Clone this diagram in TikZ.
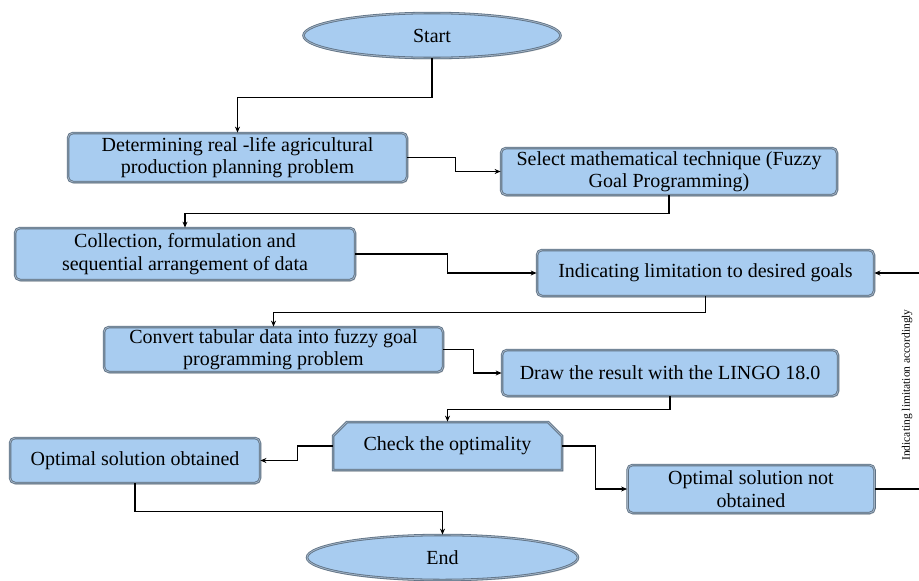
\documentclass[tikz,border=0pt]{standalone}
\usepackage{fontspec}
\setmainfont{Liberation Serif}
\usepackage{tikz}
\usetikzlibrary{arrows.meta,positioning,shapes.geometric,shapes.misc,shadows}
\definecolor{flowfill}{HTML}{A8CCF0}
\definecolor{flowedge}{HTML}{5E7184}
\definecolor{flowrim}{HTML}{9FB0C2}
\newcommand{\flowfont}{\fontsize{20}{22.5}\selectfont}

\tikzset{
  bevel/.style={draw=flowedge,line width=0.8pt,double=flowrim,double distance=0.9pt,fill=flowfill,
    drop shadow={shadow xshift=1pt,shadow yshift=-1.5pt,opacity=0.35}},
  stepbox/.style={rectangle,rounded corners=5pt,bevel,align=center,font=\flowfont,inner sep=1pt},
  termbox/.style={ellipse,bevel,font=\flowfont,inner sep=0pt},
  checkbox/.style={chamfered rectangle,chamfered rectangle corners={north west,north east},
    chamfered rectangle xsep=7pt,chamfered rectangle ysep=7pt,bevel,font=\flowfont,inner sep=1pt},
  flow/.style={->,line width=1.3pt,black},
  sidenote/.style={font=\fontsize{11.5}{13}\selectfont,inner sep=1pt}
}

\begin{document}
\begin{tikzpicture}[x=1pt,y=-1pt,>={Stealth[length=6pt,width=5pt]}]
  \useasboundingbox (0,0) rectangle (919,581);
  \node[termbox,minimum width=257,minimum height=45] (start) at (432,35.5) {Start};
  \node[stepbox,minimum width=339,minimum height=49] (b1) at (237.5,157.5)
    {Determining real -life agricultural\\production planning problem};
  \node[stepbox,minimum width=336,minimum height=47] (b2) at (669,171.5)
    {Select mathematical technique (Fuzzy\\Goal Programming)};
  \node[stepbox,minimum width=340,minimum height=52] (b3) at (185,254)
    {Collection, formulation and\\sequential arrangement of data};
  \node[stepbox,minimum width=337,minimum height=46] (b4) at (705.5,273)
    {Indicating limitation to desired goals};
  \node[stepbox,minimum width=339,minimum height=45] (b5) at (273.5,349.5)
    {Convert tabular data into fuzzy goal\\programming problem};
  \node[stepbox,minimum width=336,minimum height=46] (b6) at (670,373)
    {Draw the result with the LINGO 18.0};
  \node[checkbox,minimum width=229,minimum height=48] (b7) at (447.5,446)
    {Check the optimality};
  \node[stepbox,minimum width=250,minimum height=45] (b8) at (135,460.5)
    {Optimal solution obtained};
  \node[stepbox,minimum width=247,minimum height=48] (b9) at (751,489)
    {Optimal solution not\\obtained};
  \node[termbox,minimum width=271,minimum height=45] (end) at (442.5,557.5) {End};

  \draw[flow] (start.south) -- ++(0,39) -| (b1.north);
  \draw[flow] (b1.east) -- ++(48,0) |- (b2.west);
  \draw[flow] (b2.south) -- ++(0,18) -| (b3.north);
  \draw[flow] (b3.east) -- ++(92,0) |- (b4.west);
  \draw[flow] (b4.south) -- ++(0,16) -| (b5.north);
  \draw[flow] (b5.east) -- ++(30,0) |- (b6.west);
  \draw[flow] (b6.south) -- ++(0,13) -| (b7.north);
  \draw[flow] (b7.west) -- ++(-35,0) |- (b8.east);
  \draw[flow] (b7.east) -- ++(33,0) |- (b9.west);
  \draw[flow] (b8.south) -- ++(0,28) -| (end.north);
  \draw[flow] (b9.east) -- ++(45,0) |- (b4.east);
  \node[sidenote,rotate=90] (limnote) at (907,385) {Indicating limitation accordingly};
\end{tikzpicture}
\end{document}
